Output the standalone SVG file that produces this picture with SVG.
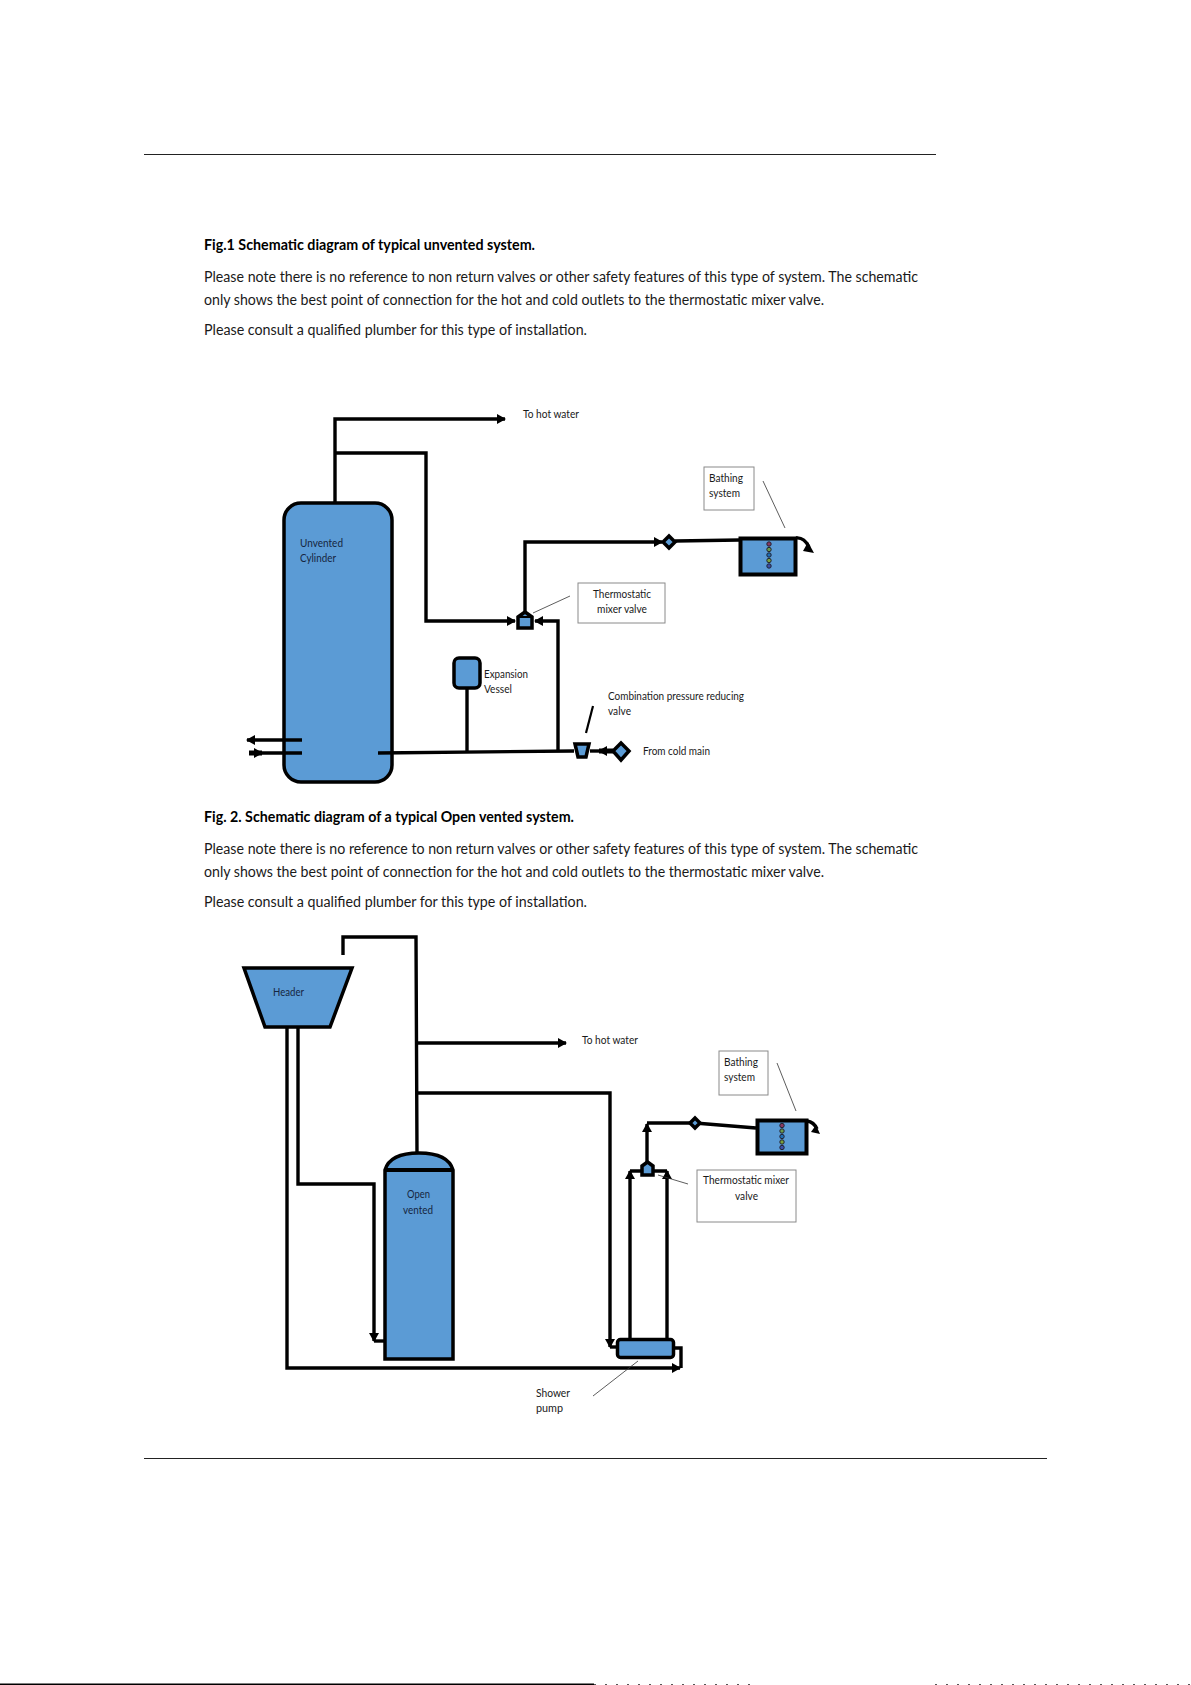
<svg xmlns="http://www.w3.org/2000/svg" width="1191" height="1685" viewBox="0 0 1191 1685">
<style>
text{font-family:Lato,"Liberation Sans",sans-serif;fill:#1a1a1a}
.p{font-size:14.5px}
.b{font-size:14.5px;font-weight:bold;fill:#000}
.s{font-size:10.5px}
.i{fill:#16263f}
.w{fill:none;stroke:#000;stroke-width:3.4;stroke-linejoin:miter}
.h{fill:#5b9bd5;stroke:#000;stroke-width:3.5}
.lb{fill:#fff;stroke:#8a8a8a;stroke-width:1}
.l{fill:none;stroke:#333;stroke-width:.8}
.a{fill:#000;stroke:none}
</style>
<defs>
<marker id="ar" markerUnits="userSpaceOnUse" markerWidth="10" markerHeight="10" refX="8" refY="5" orient="auto"><path class="a" d="M0 0L9 5L0 10Z"/></marker>
<marker id="big" markerUnits="userSpaceOnUse" markerWidth="13" markerHeight="12" refX="11" refY="6" orient="auto"><path class="a" d="M0 0L12 6L0 12Z"/></marker>
<g id="dots"><circle cy="0" r="2.2" fill="#8b3a62" stroke="#223" stroke-width="1"/><circle cy="5.500" r="2.2" fill="#6a9a4a" stroke="#223" stroke-width="1"/><circle cy="11" r="2.2" fill="#1f6fb5" stroke="#223" stroke-width="1"/><circle cy="16.500" r="2.2" fill="#7aa03a" stroke="#223" stroke-width="1"/><circle cy="22" r="2.2" fill="#3b4fa8" stroke="#223" stroke-width="1"/></g>
</defs>
<rect width="1191" height="1685" fill="#fff"/>
<g id="page-text">
<line x1="144" y1="154.500" x2="936" y2="154.500" stroke="#222" stroke-width="1"/>
<line x1="144" y1="1458.500" x2="1047" y2="1458.500" stroke="#222" stroke-width="1"/>
<line x1="0" y1="1684.250" x2="594" y2="1684.250" stroke="#000" stroke-width="1.500"/>
<line x1="594" y1="1684.500" x2="752" y2="1684.500" stroke="#555" stroke-width="1" stroke-dasharray="2 9"/>
<line x1="935" y1="1684.500" x2="1191" y2="1684.500" stroke="#555" stroke-width="1" stroke-dasharray="2 9"/>
<text class="b" x="204" y="250" textLength="331" lengthAdjust="spacingAndGlyphs">Fig.1 Schematic diagram of typical unvented system.</text>
<text class="p" x="204" y="282" textLength="714" lengthAdjust="spacingAndGlyphs">Please note there is no reference to non return valves or other safety features of this type of system. The schematic</text>
<text class="p" x="204" y="305" textLength="620" lengthAdjust="spacingAndGlyphs">only shows the best point of connection for the hot and cold outlets to the thermostatic mixer valve.</text>
<text class="p" x="204" y="335" textLength="383" lengthAdjust="spacingAndGlyphs">Please consult a qualified plumber for this type of installation.</text>
<text class="b" x="204" y="822" textLength="370" lengthAdjust="spacingAndGlyphs">Fig. 2. Schematic diagram of a typical Open vented system.</text>
<text class="p" x="204" y="854" textLength="714" lengthAdjust="spacingAndGlyphs">Please note there is no reference to non return valves or other safety features of this type of system. The schematic</text>
<text class="p" x="204" y="877" textLength="620" lengthAdjust="spacingAndGlyphs">only shows the best point of connection for the hot and cold outlets to the thermostatic mixer valve.</text>
<text class="p" x="204" y="907" textLength="383" lengthAdjust="spacingAndGlyphs">Please consult a qualified plumber for this type of installation.</text>
</g>
<g id="connectors">
<path class="w" d="M335 503V419H505" marker-end="url(#ar)"/>
<path class="w" d="M335 453H426V621H515" marker-end="url(#ar)"/>
<path class="w" d="M525 615V542H662" marker-end="url(#ar)"/>
<path class="w" d="M675 541L740 540"/>
<path class="w" d="M467 688V752"/>
<path class="w" d="M558 751V621H535" marker-end="url(#ar)"/>
<path class="w" d="M590 751H600"/>
<path d="M613 751H599" fill="none" stroke="#000" stroke-width="5" marker-end="url(#ar)"/>
<path d="M593 706L586 733" fill="none" stroke="#000" stroke-width="2.2"/>
<path class="w" d="M796 538Q804 537 809 547"/>
<path class="a" d="M803 551L814 553L808 542Z"/>
<path class="w" d="M343 955V937H416L417 1153"/>
<path class="w" d="M417 1043H566" marker-end="url(#ar)"/>
<path class="w" d="M417 1093H610V1347" marker-end="url(#ar)"/>
<path class="w" d="M610 1347H617"/>
<path class="w" d="M298 1027V1184H374V1341" marker-end="url(#ar)"/>
<path class="w" d="M374 1341H385"/>
<path class="w" d="M287 1027V1368H680" marker-end="url(#ar)"/>
<path class="w" d="M674 1348H681V1368"/>
<path class="w" d="M630 1339V1171" marker-end="url(#ar)"/>
<path class="w" d="M667 1339V1171" marker-end="url(#ar)"/>
<path class="w" d="M630 1171H667"/>
<path class="w" d="M647 1162V1124" marker-end="url(#ar)"/>
<path class="w" d="M647 1123L695 1123L756 1128"/>
<path class="w" d="M807 1121Q814 1122 817 1129"/>
<path class="a" d="M811 1132L820 1134L816 1125Z"/>
</g>
<g id="unvented-cylinder"><rect class="h" x="284" y="503" width="108" height="279" rx="17"/><text class="s i" x="300" y="547" textLength="43" lengthAdjust="spacingAndGlyphs">Unvented</text><text class="s i" x="300" y="562" textLength="36" lengthAdjust="spacingAndGlyphs">Cylinder</text></g>
<g id="connectors-over-cylinder">
<path class="w" d="M302 740H247" marker-end="url(#ar)"/>
<path class="w" d="M302 753H262"/>
<path d="M249 753H262" fill="none" stroke="#000" stroke-width="5" marker-end="url(#ar)"/>
<path class="w" d="M378 753L574 751"/>
</g>
<g id="hot-label-1"><text class="s" x="523" y="418" textLength="56" lengthAdjust="spacingAndGlyphs">To hot water</text></g>
<g id="mixer-1"><path class="h" d="M518 617L525 612L532 617V628H518Z"/><line x1="518" y1="617" x2="532" y2="617" stroke="#000" stroke-width="2"/></g>
<g id="mixer-label-1"><rect class="lb" x="578" y="583" width="87" height="40"/><text class="s" x="593" y="598" textLength="58" lengthAdjust="spacingAndGlyphs">Thermostatic</text><text class="s" x="597" y="613" textLength="50" lengthAdjust="spacingAndGlyphs">mixer valve</text><line class="l" x1="533" y1="613" x2="570" y2="596"/></g>
<g id="diamond-1"><path class="h" d="M669 536L675 542L669 548L663 542Z"/></g>
<g id="bath-1"><rect x="740.500" y="538.500" width="55" height="36" fill="#5b9bd5" stroke="#000" stroke-width="4"/><use href="#dots" x="769" y="544"/></g>
<g id="bath-label-1"><rect class="lb" x="704" y="467" width="50" height="43"/><text class="s" x="709" y="482" textLength="34" lengthAdjust="spacingAndGlyphs">Bathing</text><text class="s" x="709" y="497" textLength="31" lengthAdjust="spacingAndGlyphs">system</text><line class="l" x1="763" y1="481" x2="785" y2="528"/></g>
<g id="vessel"><rect class="h" x="454" y="658" width="26" height="30" rx="5"/><text class="s" x="484" y="678" textLength="44" lengthAdjust="spacingAndGlyphs">Expansion</text><text class="s" x="484" y="693" textLength="28" lengthAdjust="spacingAndGlyphs">Vessel</text></g>
<g id="prv"><path class="h" d="M575 744H589L586 757H578Z"/><text class="s" x="608" y="700" textLength="136" lengthAdjust="spacingAndGlyphs">Combination pressure reducing</text><text class="s" x="608" y="715" textLength="23" lengthAdjust="spacingAndGlyphs">valve</text></g>
<g id="cold-main"><path class="h" d="M621 743L629 751L621 760L613 751Z"/><text class="s" x="643" y="755" textLength="67" lengthAdjust="spacingAndGlyphs">From cold main</text></g>
<g id="header"><path class="h" d="M244 968H352L330 1027H265Z"/><text class="s i" x="273" y="996" textLength="31" lengthAdjust="spacingAndGlyphs">Header</text></g>
<g id="open-vented"><path class="h" d="M385 1170Q390 1153 419 1153Q448 1153 453 1170V1359H385Z"/><line x1="385" y1="1170" x2="453" y2="1170" stroke="#000" stroke-width="4"/><text class="s i" x="407" y="1198" textLength="23" lengthAdjust="spacingAndGlyphs">Open</text><text class="s i" x="403" y="1214" textLength="30" lengthAdjust="spacingAndGlyphs">vented</text></g>
<g id="hot-label-2"><text class="s" x="582" y="1044" textLength="56" lengthAdjust="spacingAndGlyphs">To hot water</text></g>
<g id="mixer-2"><path class="h" d="M642 1166L647.500 1162L653 1166V1175H642Z"/></g>
<g id="mixer-label-2"><rect class="lb" x="697" y="1170" width="99" height="52"/><text class="s" x="703" y="1184" textLength="86" lengthAdjust="spacingAndGlyphs">Thermostatic mixer</text><text class="s" x="735" y="1200" textLength="23" lengthAdjust="spacingAndGlyphs">valve</text><line class="l" x1="688" y1="1184" x2="658" y2="1175"/></g>
<g id="diamond-2"><path class="h" d="M695 1118L700 1123L695 1128L690 1123Z"/></g>
<g id="bath-2"><rect x="757.500" y="1120.500" width="49" height="33" fill="#5b9bd5" stroke="#000" stroke-width="4"/><use href="#dots" x="782" y="1125.500"/></g>
<g id="bath-label-2"><rect class="lb" x="719" y="1051" width="49" height="44"/><text class="s" x="724" y="1066" textLength="34" lengthAdjust="spacingAndGlyphs">Bathing</text><text class="s" x="724" y="1081" textLength="31" lengthAdjust="spacingAndGlyphs">system</text><line class="l" x1="777" y1="1063" x2="796" y2="1111"/></g>
<g id="pump"><rect class="h" x="617.500" y="1339.500" width="56" height="18" rx="3"/><text class="s" x="536" y="1397" textLength="34" lengthAdjust="spacingAndGlyphs">Shower</text><text class="s" x="536" y="1412" textLength="27" lengthAdjust="spacingAndGlyphs">pump</text><line class="l" x1="638" y1="1361" x2="593" y2="1396"/></g>
</svg>
